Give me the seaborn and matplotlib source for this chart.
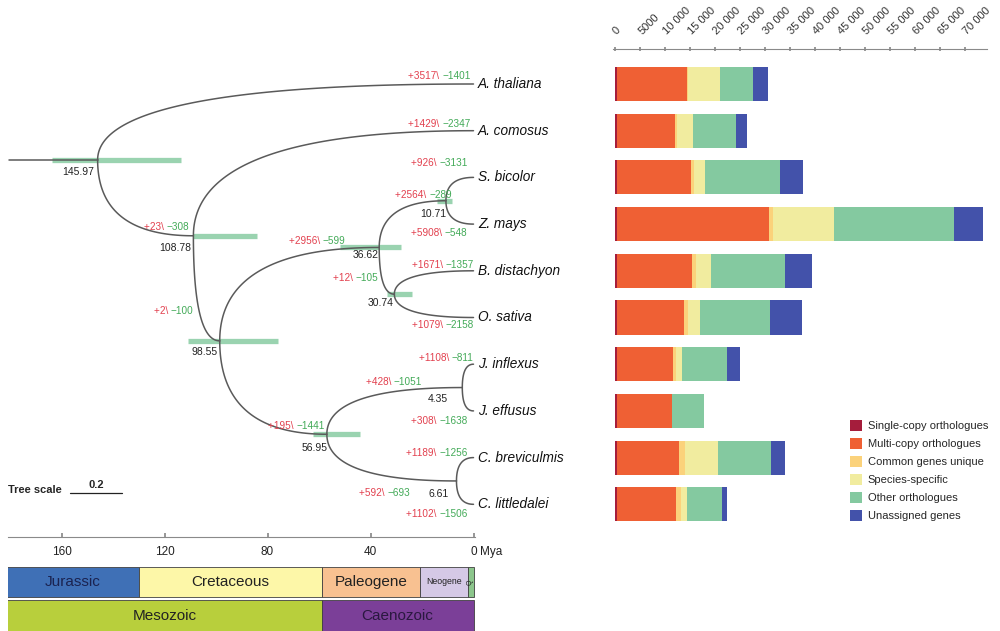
import numpy as np
import pandas as pd
import matplotlib.pyplot as plt
from matplotlib.patches import Patch
from matplotlib.lines import Line2D
import seaborn as sns

# ---- gene family composition per species ----
species = ["A. thaliana", "A. comosus", "S. bicolor", "Z. mays", "B. distachyon",
           "O. sativa", "J. inflexus", "J. effusus", "C. breviculmis", "C. littledalei"]
single_copy = [400, 400, 400, 400, 400, 400, 400, 400, 400, 400]
multi_copy = [13950, 11600, 14740, 30400, 14940, 13400, 11200, 10940, 12400, 11740]
common_unique = [200, 300, 600, 800, 800, 800, 600, 0, 1200, 1060]
species_specific = [6450, 3300, 2260, 12200, 3060, 2400, 1200, 0, 6600, 1140]
other_orthologues = [6540, 8540, 15000, 24000, 14800, 14000, 9000, 6460, 10600, 7000]
unassigned = [3000, 2200, 4600, 5800, 5400, 6340, 2600, 0, 2800, 1000]

categories = ["Single-copy orthologues", "Multi-copy orthologues", "Common genes unique",
              "Species-specific", "Other orthologues", "Unassigned genes"]
cat_colors = ["#a51d3c", "#ef6034", "#fbd27b", "#f1ec9f", "#84c9a0", "#4352aa"]
count_ticks = list(range(0, 70001, 5000))

# ---- dated tree ----
node_names = ["n1", "n2", "n3", "n4", "n5", "n6", "n7", "n8", "n9"]
node_ages = [145.97, 108.78, 98.55, 36.62, 10.71, 30.74, 56.95, 4.35, 6.61]
node_children = [("A. thaliana", "n2"), ("A. comosus", "n3"), ("n4", "n7"), ("n5", "n6"),
                 ("S. bicolor", "Z. mays"), ("B. distachyon", "O. sativa"), ("n8", "n9"),
                 ("J. inflexus", "J. effusus"), ("C. breviculmis", "C. littledalei")]
node_ci = [(163.6, 113.5), (108.8, 84.1), (110.7, 76.1), (51.7, 28.3), (14.0, 8.5),
           (33.4, 23.7), (62.5, 43.9), None, None]

branches = species + ["n2", "n3", "n4", "n5", "n6", "n7", "n8", "n9"]
gains = [3517, 1429, 926, 5908, 1671, 1079, 1108, 308, 1189, 1102,
         23, 2, 2956, 2564, 12, 195, 428, 592]
losses = [1401, 2347, 3131, 548, 1357, 2158, 811, 1638, 1256, 1506,
          308, 100, 599, 289, 105, 1441, 1051, 693]

# ---- geological time scale ----
periods = ["Jurassic", "Cretaceous", "Paleogene", "Neogene", "Q"]
period_start = [181, 130, 59, 20.6, 2.3]
period_end = [130, 59, 20.6, 2.3, 0]
period_colors = ["#3f70b6", "#fdf7a8", "#f8c191", "#d5c9e6", "#8cc68c"]
eras = ["Mesozoic", "Caenozoic"]
era_start = [181, 59]
era_end = [59, 0]
era_colors = ["#b8cf3c", "#7b3f98"]
time_ticks = [160, 120, 80, 40, 0]

# ---- layout helpers (pixel based) ----
W, H = 1000, 631
ROW0, ROWH = 84, 46.7
PX0, PXMY = 473.5, 2.575
RED, GREEN = "#e2404e", "#43aa58"
LINE = "#5a5a5a"


def box(x0, y0, x1, y1):
    return [x0 / W, 1 - y1 / H, (x1 - x0) / W, (y1 - y0) / H]


sns.set_theme(style="white")
plt.rcParams["font.family"] = ["Liberation Sans", "DejaVu Sans"]

fig = plt.figure(figsize=(10, 6.31), dpi=100)

# ================= tree =================
ax = fig.add_axes(box(0, 0, 600, 531))
ax.set_xlim(PX0 / PXMY, (PX0 - 600) / PXMY)
ax.set_ylim((531 - ROW0) / ROWH, -ROW0 / ROWH)
ax.axis("off")

age = dict(zip(node_names, node_ages))
kids = dict(zip(node_names, node_children))
row = {s: i for i, s in enumerate(species)}
for s in species:
    age[s] = 0.0


def place(n):
    if n not in row:
        row[n] = np.mean([place(c) for c in kids[n]])
    return row[n]


place("n1")

t = np.linspace(0, 1, 80)
for n in node_names:
    for c in kids[n]:
        x0, y0, x1, y1 = age[n], row[n], age[c], row[c]
        bx = (1 - t) ** 2 * x0 + 2 * t * (1 - t) * x0 + t ** 2 * x1
        by = (1 - t) ** 2 * y0 + 2 * t * (1 - t) * y1 + t ** 2 * y1
        ax.plot(bx, by, color=LINE, lw=1.1, zorder=2)
ax.plot([180.5, age["n1"]], [row["n1"]] * 2, color=LINE, lw=1.1, zorder=2)

# node age confidence bars
for n, ci in zip(node_names, node_ci):
    if ci:
        ax.plot(ci, [row[n]] * 2, color="#8fcfa8", lw=3.8, alpha=0.9,
                solid_capstyle="butt", zorder=1)

# node ages
age_off = {"n1": (-4, 12), "n2": (-2, 12), "n3": (-2, 11), "n4": (-1, 8), "n5": (0, 13),
           "n6": (-1, 9), "n7": (1, 14), "n8": (-14, 11), "n9": (-8, 13)}
for n in node_names:
    dx, dy = age_off[n]
    ax.annotate(f"{age[n]:.2f}", xy=(age[n], row[n]), xytext=(dx, -dy),
                textcoords="offset pixels", ha="right", va="center",
                fontsize=7.5, color="#222222")

# gains / losses on each branch
gl_off = {"A. thaliana": (-3, -8), "A. comosus": (-3, -7), "S. bicolor": (-6, -14),
          "Z. mays": (-6, 9), "B. distachyon": (0, -6), "O. sativa": (0, 8),
          "J. inflexus": (0, -6), "J. effusus": (-6, 10), "C. breviculmis": (-6, -5),
          "C. littledalei": (-6, 10), "n2": (-4, -9), "n3": (-26, -30), "n4": (-34, -6),
          "n5": (6, -6), "n6": (-16, -16), "n7": (-2, -8), "n8": (-40, -6), "n9": (-46, 12)}
for b, g, l in zip(branches, gains, losses):
    dx, dy = gl_off[b]
    t_loss = ax.annotate(f"\u2212{l}", xy=(age[b], row[b]), xytext=(dx, -dy),
                         textcoords="offset pixels", ha="right", va="center",
                         fontsize=7.2, color=GREEN)
    ax.annotate(f"+{g}\\ ", xy=(0, 0.5), xycoords=t_loss, ha="right", va="center",
                fontsize=7.2, color=RED)

# species names
for s in species:
    ax.text(-1.75, row[s], s, style="italic", fontsize=9.8, ha="left", va="center",
            color="#111111")

# tree scale
fig.text(8 / W, 1 - 490 / H, "Tree scale", fontsize=8, weight="bold", va="center")
fig.add_artist(Line2D([70 / W, 122 / W], [1 - 493 / H] * 2, color="#222222", lw=0.9))
fig.text(96 / W, 1 - 485 / H, "0.2", fontsize=8, weight="bold", ha="center", va="center")

# ================= time scale =================
axt = fig.add_axes(box(8, 537, 475, 631))
axt.set_xlim((PX0 - 8) / PXMY, (PX0 - 475) / PXMY)
axt.set_ylim(94, 0)
for s in ["left", "right", "bottom"]:
    axt.spines[s].set_visible(False)
axt.spines["top"].set_color("#8a8a8a")
axt.spines["top"].set_linewidth(0.8)
axt.xaxis.set_ticks_position("top")
axt.set_xticks(time_ticks)
axt.set_xticklabels([])
axt.set_yticks([])
axt.tick_params(axis="x", direction="out", length=3, color="#8a8a8a", labeltop=False)
for tk in time_ticks:
    axt.text(tk, 15, str(tk), ha="center", va="center", fontsize=8.5, color="#222222")
axt.annotate("Mya", xy=(0, 15), xytext=(6, 0), textcoords="offset pixels",
             ha="left", va="center", fontsize=8.5, color="#222222")

axt.barh([45] * len(periods), width=np.subtract(period_start, period_end), left=period_end,
         height=30, color=period_colors, edgecolor="#404040", linewidth=0.6)
for name, a, b in zip(periods, period_start, period_end):
    mid = (a + b) / 2
    if name == "Q":
        axt.text(mid, 45, name, rotation=90, fontsize=5, ha="center", va="center",
                 color="#222222")
    elif name == "Neogene":
        axt.text(mid, 45, name, fontsize=6.3, ha="center", va="center", color="#222222")
    else:
        axt.text(mid, 45, name, fontsize=11, ha="center", va="center",
                 color="#1b2350" if name == "Jurassic" else "#222222")

axt.barh([78.5] * len(eras), width=np.subtract(era_start, era_end), left=era_end,
         height=31, color=era_colors, edgecolor="#404040", linewidth=0.6)
for name, a, b in zip(eras, era_start, era_end):
    axt.text((a + b) / 2, 78.5, name, fontsize=11, ha="center", va="center",
             color="#222222" if name == "Mesozoic" else "#2a1840")

# ================= stacked bars =================
axb = fig.add_axes(box(613, 49, 987, 531))
comp = [single_copy, multi_copy, common_unique, species_specific, other_orthologues, unassigned]
cum = np.cumsum(comp, axis=0)
for k in range(len(categories) - 1, -1, -1):
    sns.barplot(x=cum[k], y=species, orient="h", color=cat_colors[k], saturation=1,
                width=0.73, linewidth=0, errorbar=None, ax=axb)

axb.set_xlim(-400, 74400)
axb.set_ylim((531 - ROW0) / ROWH, (49 - ROW0) / ROWH)
axb.set_xlabel("")
axb.set_ylabel("")
axb.set_yticks([])
for s in ["left", "right", "bottom"]:
    axb.spines[s].set_visible(False)
axb.spines["top"].set_color("#8a8a8a")
axb.spines["top"].set_linewidth(0.8)
axb.xaxis.tick_top()
axb.set_xticks(count_ticks)
tick_labels = [str(v) if v < 10000 else f"{v:,}".replace(",", " ") for v in count_ticks]
axb.set_xticklabels(tick_labels, rotation=45, ha="left", va="center",
                    rotation_mode="anchor", fontsize=8, color="#333333")
axb.tick_params(axis="x", direction="inout", length=3, pad=10, color="#8a8a8a")

handles = [Patch(facecolor=c, edgecolor="none", label=l) for l, c in zip(categories, cat_colors)]
fig.legend(handles=handles, loc="upper left", bbox_to_anchor=(850 / W, 1 - 420 / H),
           frameon=False, fontsize=8, handlelength=1.1, handleheight=1.1,
           handletextpad=0.5, labelspacing=0.62, borderpad=0, borderaxespad=0)

fig.savefig("out.png", dpi=100)
